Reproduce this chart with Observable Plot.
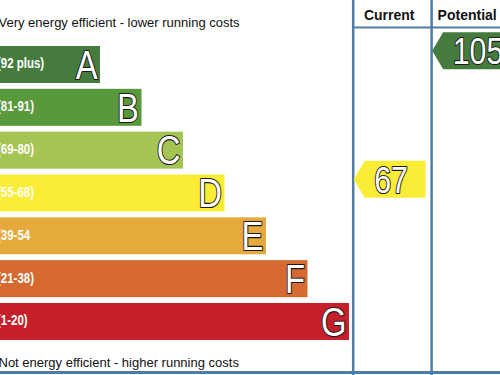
<!DOCTYPE html>
<html><head><meta charset="utf-8">
<script src="https://cdn.jsdelivr.net/npm/d3@7"></script>
<script src="https://cdn.jsdelivr.net/npm/@observablehq/plot@0.6"></script>
<style>html,body{margin:0;padding:0;background:#fff;overflow:hidden} svg{display:block}</style>
</head><body><div id="chart"></div>
<script>
// ---- data ----
const ratings = ["A", "B", "C", "D", "E", "F", "G"];
const rangeLabels = ["(92 plus)", "(81-91)", "(69-80)", "(55-68)", "(39-54", "(21-38)", "(1-20)"];
const lowerBounds = [92, 81, 69, 55, 39, 21, 1];
const ratingColors = ["#457c3e", "#58993b", "#a4c553", "#fbed35", "#e6a93c", "#d5692f", "#c5202a"];
const columnTitles = ["Current", "Potential"];
const scores = [67, 105];
const topNote = "Very energy efficient - lower running costs";
const bottomNote = "Not energy efficient - higher running costs";

// ---- layout (x in bar-step units, y in row units) ----
const lead = 1.41;          // common stub of every rating bar
const half = 0.432;         // half bar thickness (rows)
const colLefts = [8.5, 10.39];
const colWidth = 1.88;
const arrowShift = -0.32;
const font = "'Liberation Sans',Arial,sans-serif";
const lineColor = "#4f7ca6";
const squeeze = 0.82;       // narrow lettering

const rows = ratings.map((r, i) => ({
  rating: r, label: rangeLabels[i], color: ratingColors[i], row: i, end: i + 1 + lead
}));

const arrows = scores.map((s, k) => {
  const idx = lowerBounds.findIndex(b => s >= b);
  const tip = colLefts[k] + 0.025;
  const body = tip + 0.265;
  const right = colLefts[k] + colWidth - 0.125;
  return {score: s, row: idx + arrowShift, tip, body, right, color: ratingColors[idx]};
});
const arrowPts = arrows.flatMap((a, k) => [
  {k, y: a.row - half, x1: a.body, x2: a.right, color: a.color},
  {k, y: a.row, x1: a.tip, x2: a.right, color: a.color},
  {k, y: a.row + half, x1: a.body, x2: a.right, color: a.color}
]);

const chart = Plot.plot({
  width: 500, height: 375,
  margin: 0,
  x: {domain: [0, 12.05], range: [0, 500], axis: null},
  y: {domain: [-1.506, 7.25], range: [0, 375], axis: null},
  color: {type: "identity"},
  style: {background: "#fff", overflow: "hidden"},
  marks: [
    Plot.rect(rows, {x1: 0, x2: "end", y1: d => d.row - half, y2: d => d.row + half, fill: "color"}),
    Plot.text(rows, {x: 0, y: "row", text: "label", textAnchor: "start", dx: -3.5, dy: -1,
      fill: "white", fontWeight: "bold", fontSize: 14, fontFamily: font}),
    Plot.text(rows, {x: "end", y: "row", text: "rating", textAnchor: "end", dx: -3, dy: 1,
      fill: "white", stroke: "#1b1b1b", strokeWidth: 2.2, fontSize: 40, fontFamily: font}),
    Plot.ruleX(colLefts, {stroke: lineColor, strokeWidth: 2.5}),
    Plot.ruleY([-0.876], {x1: colLefts[0], x2: 12.05, stroke: lineColor, strokeWidth: 2}),
    Plot.ruleY([7.18], {stroke: lineColor, strokeWidth: 3}),
    Plot.text([columnTitles[0]], {x: colLefts[0] + colWidth / 2, y: -1.06, text: d => d,
      textAnchor: "middle", lineAnchor: "bottom", dx: -3,
      fontWeight: "bold", fontSize: 14, fontFamily: font, fill: "#111"}),
    Plot.text([columnTitles[1]], {x: colLefts[1], y: -1.06, text: d => d,
      textAnchor: "start", lineAnchor: "bottom", dx: 6,
      fontWeight: "bold", fontSize: 14, fontFamily: font, fill: "#111"}),
    Plot.text([topNote], {x: 0, y: -0.876, text: d => d, textAnchor: "start", lineAnchor: "bottom",
      dx: -2, fontSize: 13, fontFamily: font, fill: "#111"}),
    Plot.text([bottomNote], {x: 0, y: 7.05, text: d => d, textAnchor: "start", lineAnchor: "bottom",
      dx: -2, fontSize: 13, fontFamily: font, fill: "#111"}),
    Plot.areaX(arrowPts, {y: "y", x1: "x1", x2: "x2", z: "k", fill: "color", curve: "linear"}),
    Plot.text(arrows, {x: "body", y: "row", text: d => String(d.score), textAnchor: "start",
      dx: 9, dy: 1, fill: "white", stroke: "#1b1b1b", strokeWidth: 2.2, fontSize: 37,
      fontFamily: font})
  ]
});

// narrow lettering: squeeze big letters, scores and range labels about their own anchor
chart.querySelectorAll("text").forEach(el => {
  const g = el.closest("g[font-size]") || el.parentNode;
  const fs = +(g.getAttribute && g.getAttribute("font-size")) || 0;
  const txt = el.textContent || "";
  if (!(fs >= 30 || txt.startsWith("("))) return;
  const x = +el.getAttribute("x") || 0, y = +el.getAttribute("y") || 0;
  const tr = el.getAttribute("transform") || "";
  el.setAttribute("transform", `${tr} translate(${x},${y}) scale(${squeeze},1) translate(${-x},${-y})`);
});
document.getElementById("chart").appendChild(chart);
</script>
</body></html>
